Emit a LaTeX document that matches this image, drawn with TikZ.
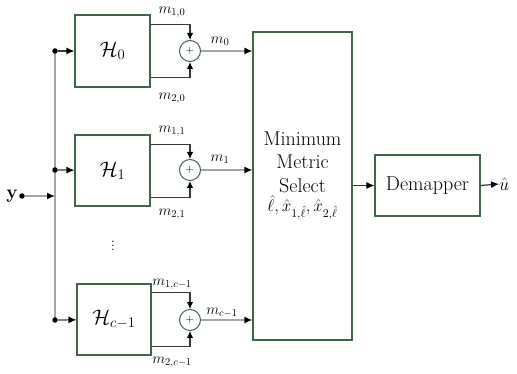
\documentclass[tikz,border=0pt]{standalone}
\usepackage{fix-cm}
\usepackage{amsmath}
\usepackage{amsfonts,amssymb}
\usepackage{tikz}
\usetikzlibrary{arrows.meta}
\usetikzlibrary{calc,positioning}
\newcommand{\createlength}[2]{\newlength{#1}\setlength{#1}{#2}}
\definecolor{boxgreen}{RGB}{64,102,74}
\definecolor{busgray}{RGB}{165,165,165}
\definecolor{wiregray}{RGB}{55,55,55}

\begin{document}
\begin{tikzpicture}[x=1pt,y=-1pt,
  hbox/.style={draw=boxgreen,line width=1.1pt,inner sep=0,minimum width=75pt,minimum height=72pt,font=\fontsize{21}{21}\selectfont},
  sumnode/.style={circle,draw=boxgreen,line width=1pt,inner sep=0,minimum size=21pt,font=\fontsize{11}{11}\selectfont},
  dotnode/.style={circle,fill=black,inner sep=0,minimum size=5.5pt},
  mlabel/.style={inner sep=1pt,font=\fontsize{15}{15}\selectfont},
  feed/.style={draw=busgray,line width=1.4pt,-{Latex[black,length=8pt,width=7pt]}},
  tap/.style={draw=wiregray,line width=1.2pt,-{Latex[black,length=8pt,width=7pt]}},
  sumin/.style={draw=wiregray,line width=1.1pt,-{Latex[black,length=7pt,width=6.5pt]}}]
\useasboundingbox (0,0) rectangle (517,374);
%%%%%%%%%%%%%%%%%%%%%%%%%%%%
%%%%%%%%% Selector %%%%%%%%%
%%%%%%%%%%%%%%%%%%%%%%%%%%%%
\node[draw=boxgreen,line width=1.1pt,minimum width=99pt,minimum height=308pt,inner sep=0] (mms) at (302.5,186) {};
\node[align=center,font=\fontsize{20}{23.5}\selectfont] (mmstext) at (302.5,162) {Minimum\\Metric\\Select};
\node[font=\fontsize{17}{17}\selectfont,below=-4pt of mmstext] (mmsout) {$\hat{\ell},\hat{x}_{1,\hat{\ell}},\hat{x}_{2,\hat{\ell}}$};
%%%%%%%%%%%%%%%%%%%%%%%%%%%%
%%%%%%%%% Branch 0. %%%%%%%%
%%%%%%%%%%%%%%%%%%%%%%%%%%%%
\node[hbox] (h0) at (112.5,51) {$\mathcal{H}_0$};
\node[sumnode] (s0) at (190,51) {$+$};
\draw[sumin] ($(h0.north east)+(0,10)$) -| (s0.north);
\draw[sumin] ($(h0.south east)+(0,-10)$) -| (s0.south);
\node[mlabel] (m10) at (172,12) {$m_{1,0}$};
\node[mlabel] (m20) at (172,98) {$m_{2,0}$};
\node[mlabel] (m0) at (220,41) {$m_0$};
\draw[feed] (s0.east) -- (s0.east -| mms.west);
%%%%%%%%%%%%%%%%%%%%%%%%%%%%
%%%%%%%%% Branch 1. %%%%%%%%
%%%%%%%%%%%%%%%%%%%%%%%%%%%%
\node[hbox,minimum height=71pt] (h1) at (112.5,170.5) {$\mathcal{H}_1$};
\node[sumnode] (s1) at (190,170) {$+$};
\draw[sumin] ($(h1.north east)+(0,10)$) -| (s1.north);
\draw[sumin] ($(h1.south east)+(0,-9)$) -| (s1.south);
\node[mlabel] (m11) at (172,131) {$m_{1,1}$};
\node[mlabel] (m21) at (172,214) {$m_{2,1}$};
\node[mlabel] (m1) at (220,159) {$m_1$};
\draw[feed] (s1.east) -- (s1.east -| mms.west);
\node[font=\fontsize{17}{17}\selectfont] (vdots) at (113,243) {$\vdots$};
%%%%%%%%%%%%%%%%%%%%%%%%%%%%
%%%%%%%%% Branch c-1. %%%%%%
%%%%%%%%%%%%%%%%%%%%%%%%%%%%
\node[hbox,minimum width=74pt,minimum height=71pt] (hc) at (114,319.5) {$\mathcal{H}_{c-1}$};
\node[sumnode] (sc) at (190,320) {$+$};
\draw[sumin] ($(hc.north east)+(0,9)$) -| (sc.north);
\draw[sumin] ($(hc.south east)+(0,-9)$) -| (sc.south);
\node[mlabel] (m1c) at (172,284) {$m_{1,c-1}$};
\node[mlabel] (m2c) at (172,362) {$m_{2,c-1}$};
\node[mlabel] (mc) at (222,313) {$m_{c-1}$};
\draw[feed] (sc.east) -- (sc.east -| mms.west);
%%%%%%%%%%%%%%%%%%%%%%%%%%%%
%%%%%%%%% Input bus %%%%%%%%
%%%%%%%%%%%%%%%%%%%%%%%%%%%%
\coordinate (b0) at (55,51);
\coordinate (bc) at (55,320);
\draw[busgray,line width=1.8pt] (b0) -- (bc);
\node[dotnode] (d0) at (b0) {};
\node[dotnode] (d1) at (55,170) {};
\node[dotnode] (dc) at (bc) {};
\draw[tap] (d0) -- (h0);
\draw[tap] (d1) -- (h1);
\draw[tap] (dc) -- (hc);
\node[dotnode] (ydot) at (22,196) {};
\node[left=1pt of ydot,inner sep=0,font=\fontsize{19}{19}\selectfont] (ylab) {$\mathbf{y}$};
\draw[feed] (ydot) -- (ydot -| d1);
%%%%%%%%%%%%%%%%%%%%%%%%%%%%
%%%%%%%%% Demapper %%%%%%%%%
%%%%%%%%%%%%%%%%%%%%%%%%%%%%
\node[draw=boxgreen,line width=1.1pt,minimum width=105pt,minimum height=61pt,inner sep=0,font=\fontsize{20}{20}\selectfont] (dmp) at (427.5,185.5) {Demapper};
\draw[tap] (mms.east |- dmp) -- (dmp.west);
\node[inner sep=0,font=\fontsize{18}{18}\selectfont,anchor=west] (uhat) at (499,184) {$\hat{u}$};
\draw[tap] (dmp.east) -- (uhat.west);
\end{tikzpicture}
\end{document}
